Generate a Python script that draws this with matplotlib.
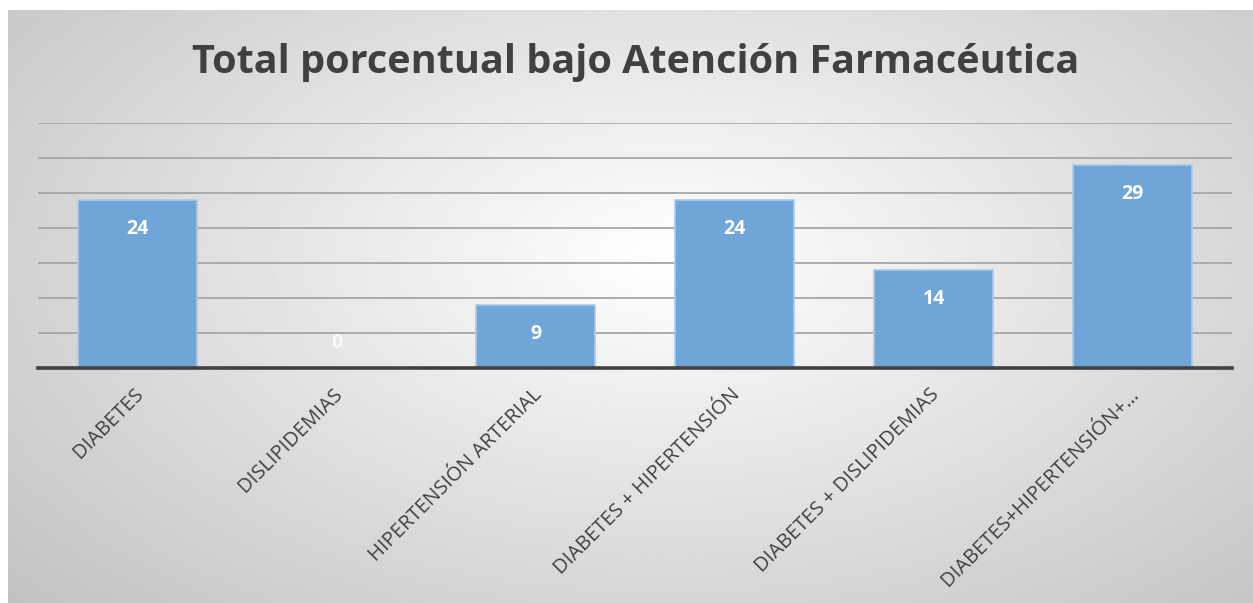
import numpy as np
import matplotlib.pyplot as plt

# datos del grafico
categorias = ["DIABETES", "DISLIPIDEMIAS", "HIPERTENSIÓN ARTERIAL",
              "DIABETES + HIPERTENSIÓN", "DIABETES + DISLIPIDEMIAS",
              "DIABETES+HIPERTENSIÓN+…"]
valores = [24, 0, 9, 24, 14, 29]
titulo = "Total porcentual bajo Atención Farmacéutica"

W, H = 1253, 603
fig = plt.figure(figsize=(W / 100, H / 100), dpi=100)

# fondo con degradado radial (blanco al centro, gris en los bordes)
bg = fig.add_axes([8 / W, 0, 1 - 8 / W, 1 - 10 / H])
yy, xx = np.mgrid[0:1:300j, 0:1:600j]
r = np.sqrt(((xx - 0.53) / 0.72) ** 2 + ((yy - 0.42) / 0.85) ** 2)
r = np.clip(r, 0, 1)
g = 1.0 - 0.24 * r
bg.imshow(g, cmap="gray", vmin=0, vmax=1, aspect="auto",
          extent=[0, 1, 0, 1], interpolation="bilinear")
bg.axis("off")

ax = fig.add_axes([38 / W, 1 - 368 / H, (1232 - 38) / W, (368 - 123) / H])
ax.patch.set_alpha(0)
x = np.arange(len(categorias))
ax.bar(x, valores, width=0.6, color="#6FA5D7", edgecolor="#A9CBEA",
       linewidth=1.2, zorder=3)

ax.set_xlim(-0.5, len(categorias) - 0.5)
ax.set_ylim(0, 35)
ax.set_yticks(np.arange(5, 36, 5))
ax.yaxis.grid(True, color="#A6A6A6", linewidth=1.3, zorder=0)
ax.tick_params(axis="y", length=0, labelleft=False)
ax.tick_params(axis="x", length=0, pad=12)
for s in ["top", "right", "left"]:
    ax.spines[s].set_visible(False)
ax.spines["bottom"].set_color("#404040")
ax.spines["bottom"].set_linewidth(2.6)
ax.spines["bottom"].set_zorder(4)

ax.set_xticks(x - 0.02)
ax.set_xticklabels(categorias, rotation=45, ha="right", rotation_mode="anchor",
                   fontsize=14.5, color="#404040", family="Open Sans")

for xi, v in zip(x, valores):
    dy = -21 if v > 0 else 18
    ax.annotate(str(v), (xi, v), xytext=(0, dy), textcoords="offset points",
                ha="center", va="center", color="white", fontsize=14,
                fontweight="bold", family="Open Sans", zorder=5,
                alpha=1 if v > 0 else 0.8)

fig.text(636 / W, 1 - 62 / H, titulo, ha="center", va="center",
         fontsize=28.5, fontweight="bold", color="#404040", family="Open Sans")

fig.savefig("out.png", dpi=100)
